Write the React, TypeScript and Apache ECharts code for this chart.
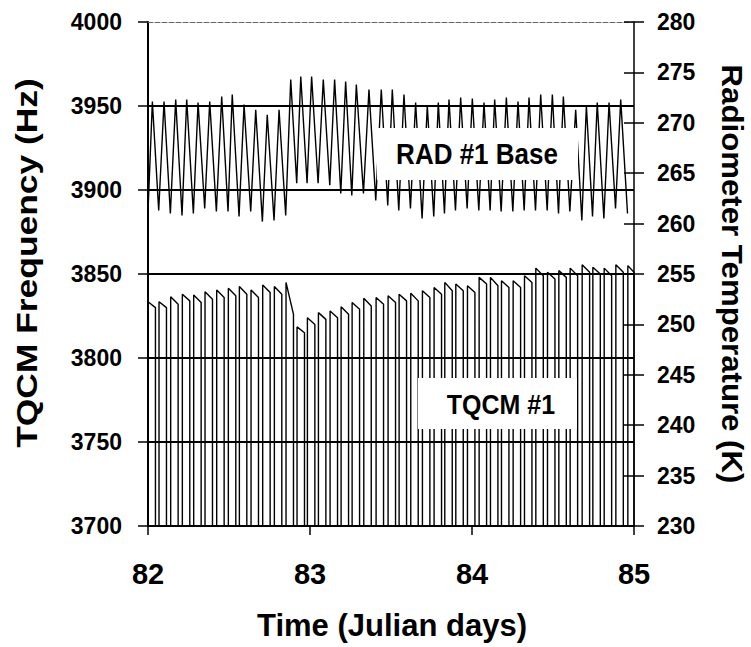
import React, { useEffect, useRef } from "react";
import * as echarts from "echarts";

// ---- Data ----
const xTicks = [82, 83, 84, 85];

// RAD #1 Base temperature (K): alternating troughs and peaks of each orbit
const radTroughDay = [82.000, 82.066, 82.138, 82.210, 82.280, 82.350, 82.422, 82.494, 82.562, 82.634, 82.706, 82.778, 82.850, 82.918, 82.982, 83.050, 83.122, 83.190, 83.258, 83.330, 83.406, 83.480, 83.548, 83.620, 83.692, 83.764, 83.830, 83.898, 83.970, 84.042, 84.112, 84.180, 84.252, 84.322, 84.392, 84.464, 84.534, 84.604, 84.678, 84.744, 84.814, 84.886, 84.960];
const radTroughK = [261.2, 261.3, 261.0, 260.8, 261.0, 261.5, 261.2, 261.2, 260.7, 261.2, 260.2, 260.3, 260.8, 264.0, 264.0, 264.0, 263.8, 263.0, 262.8, 263.0, 262.3, 261.8, 261.3, 261.5, 260.5, 260.7, 261.0, 261.3, 261.5, 261.3, 261.3, 261.2, 261.2, 261.3, 261.3, 261.3, 261.0, 261.2, 260.3, 260.7, 260.5, 261.5, 261.0];
const radPeakDay = [82.027, 82.099, 82.171, 82.239, 82.309, 82.381, 82.455, 82.520, 82.593, 82.665, 82.736, 82.809, 82.881, 82.943, 83.010, 83.082, 83.152, 83.220, 83.286, 83.364, 83.440, 83.508, 83.580, 83.652, 83.724, 83.792, 83.858, 83.930, 84.002, 84.074, 84.140, 84.212, 84.284, 84.352, 84.424, 84.496, 84.564, 84.640, 84.706, 84.773, 84.846, 84.918];
const radPeakK = [272.1, 272.1, 272.3, 272.3, 272.0, 272.1, 272.6, 272.8, 271.8, 271.3, 270.8, 271.3, 274.3, 274.6, 274.6, 274.3, 274.3, 274.1, 273.8, 273.3, 273.3, 273.3, 272.8, 272.0, 271.7, 272.0, 272.3, 272.5, 272.4, 272.0, 272.3, 272.5, 272.1, 272.5, 272.8, 272.8, 272.6, 271.3, 271.7, 272.0, 272.0, 272.3];

// TQCM #1 frequency (Hz): each orbit rises from off-scale, plateaus, then drops off-scale
const tqcmOffScaleHz = 3690;
const tqcmUpDay = [82.000, 82.068, 82.140, 82.212, 82.282, 82.352, 82.424, 82.496, 82.564, 82.636, 82.708, 82.780, 82.852, 82.920, 82.984, 83.052, 83.124, 83.192, 83.260, 83.332, 83.408, 83.482, 83.550, 83.622, 83.694, 83.766, 83.832, 83.900, 83.972, 84.044, 84.114, 84.182, 84.254, 84.324, 84.394, 84.466, 84.536, 84.606, 84.680, 84.746, 84.816, 84.888, 84.962];
const tqcmTopHz = [3833.5, 3833.5, 3836.5, 3838, 3837.5, 3839.5, 3840.5, 3841.5, 3842.5, 3840.5, 3843.5, 3842.5, 3845, 3818.5, 3824, 3827, 3828, 3830.5, 3833, 3835.5, 3836, 3837, 3838, 3838.5, 3840, 3842, 3845, 3844, 3843, 3848, 3848, 3846, 3846, 3849, 3853.5, 3851, 3852, 3853.5, 3855.5, 3854, 3853.5, 3855.5, 3855];
const tqcmDownDay = [82.046, 82.114, 82.186, 82.258, 82.328, 82.398, 82.470, 82.542, 82.610, 82.682, 82.754, 82.826, 82.898, 82.966, 83.030, 83.098, 83.170, 83.238, 83.306, 83.378, 83.454, 83.528, 83.596, 83.668, 83.740, 83.812, 83.878, 83.946, 84.018, 84.090, 84.160, 84.228, 84.300, 84.370, 84.440, 84.512, 84.582, 84.652, 84.726, 84.792, 84.862, 84.934, 85.000];
const tqcmEndHz = [3830, 3830, 3832, 3834, 3833, 3835, 3836, 3837, 3838, 3836, 3839, 3838, 3826, 3815, 3820, 3823, 3824, 3826, 3829, 3831, 3832, 3833, 3834, 3834, 3836, 3838, 3840, 3840, 3839, 3844, 3843, 3842, 3842, 3845, 3849, 3847, 3848, 3849, 3851, 3850, 3849, 3851, 3851];

const leftMin = 3700, leftMax = 4000, leftStep = 50;
const rightMin = 230, rightMax = 280, rightStep = 5;

const FONT = "'Liberation Sans', Arial, sans-serif";

export default function App() {
  const ref = useRef<HTMLDivElement>(null);
  useEffect(() => {
    if (!ref.current) return;
    const chart = echarts.init(ref.current, undefined, { renderer: "svg" });

    const radData: number[][] = [];
    for (let i = 0; i < radTroughDay.length; i++) {
      radData.push([radTroughDay[i], radTroughK[i]]);
      if (i < radPeakDay.length) radData.push([radPeakDay[i], radPeakK[i]]);
    }
    const tqcmData: number[][] = [];
    for (let i = 0; i < tqcmUpDay.length; i++) {
      tqcmData.push([tqcmUpDay[i], tqcmOffScaleHz]);
      tqcmData.push([tqcmUpDay[i], tqcmTopHz[i]]);
      tqcmData.push([tqcmDownDay[i], tqcmEndHz[i]]);
      tqcmData.push([tqcmDownDay[i], tqcmOffScaleHz]);
    }

    const labelStyle = (size: number, margin: number) => ({
      fontFamily: FONT,
      fontWeight: "bold" as const,
      fontSize: size,
      color: "#000",
      margin,
      formatter: (v: number) => String(v),
    });

    chart.setOption({
      animation: false,
      backgroundColor: "#fff",
      grid: { left: 148, right: 117, top: 22, bottom: 121, containLabel: false },
      xAxis: [
        {
          type: "value",
          min: xTicks[0],
          max: xTicks[xTicks.length - 1],
          interval: 1,
          position: "bottom",
          axisLine: { show: true, onZero: false, lineStyle: { color: "#000", width: 2 } },
          axisTick: { show: true, length: 9, lineStyle: { color: "#000", width: 1.5 } },
          axisLabel: labelStyle(29, 33),
          splitLine: { show: false },
        },
        {
          type: "value",
          min: xTicks[0],
          max: xTicks[xTicks.length - 1],
          position: "top",
          axisLine: { show: true, onZero: false, lineStyle: { color: "#666", width: 1, type: [5, 2] } },
          axisTick: { show: false },
          axisLabel: { show: false },
          splitLine: { show: false },
        },
      ],
      yAxis: [
        {
          type: "value",
          min: leftMin,
          max: leftMax,
          interval: leftStep,
          position: "left",
          axisLine: { show: true, onZero: false, lineStyle: { color: "#000", width: 2 } },
          axisTick: { show: true, length: 10, lineStyle: { color: "#000", width: 1.5 } },
          axisLabel: labelStyle(23, 26),
          splitLine: {
            show: true,
            lineStyle: { color: ["#000", "#000", "#000", "#000", "#000", "#000", "rgba(0,0,0,0)"], width: 2 },
          },
        },
        {
          type: "value",
          min: rightMin,
          max: rightMax,
          interval: rightStep,
          position: "right",
          axisLine: { show: true, onZero: false, lineStyle: { color: "#000", width: 1.5 } },
          axisTick: { show: true, length: 10, lineStyle: { color: "#000", width: 1.5 } },
          axisLabel: labelStyle(23, 23),
          splitLine: { show: false },
        },
        {
          type: "value",
          min: rightMin,
          max: rightMax,
          interval: rightStep,
          position: "right",
          axisLine: { show: false },
          axisTick: { show: true, inside: true, length: 10, lineStyle: { color: "#000", width: 1.5 } },
          axisLabel: { show: false },
          splitLine: { show: false },
        },
      ],
      series: [
        {
          name: "TQCM #1",
          type: "line",
          xAxisIndex: 0,
          yAxisIndex: 0,
          data: tqcmData,
          showSymbol: false,
          symbol: "none",
          clip: true,
          lineStyle: { color: "#000", width: 1.4 },
          z: 2,
        },
        {
          name: "RAD #1 Base",
          type: "line",
          xAxisIndex: 0,
          yAxisIndex: 1,
          data: radData,
          showSymbol: false,
          symbol: "none",
          clip: true,
          lineStyle: { color: "#000", width: 1.4 },
          z: 2,
        },
      ],
      graphic: [
        { type: "rect", z: 50, shape: { x: 377, y: 128, width: 201, height: 52 }, style: { fill: "#fff" } },
        {
          type: "text", z: 51, x: 477, y: 154, scaleY: 1.15,
          style: { text: "RAD #1 Base", fontFamily: FONT, fontWeight: "bold", fontSize: 26, fill: "#000", align: "center", verticalAlign: "middle" },
        },
        { type: "rect", z: 50, shape: { x: 418, y: 378, width: 159, height: 51 }, style: { fill: "#fff" } },
        {
          type: "text", z: 51, x: 501, y: 405, scaleY: 1.12,
          style: { text: "TQCM #1", fontFamily: FONT, fontWeight: "bold", fontSize: 25, fill: "#000", align: "center", verticalAlign: "middle" },
        },
        {
          type: "text", z: 51, x: 26, y: 263, rotation: Math.PI / 2, scaleX: 1.18,
          style: { text: "TQCM Frequency (Hz)", fontFamily: FONT, fontWeight: "bold", fontSize: 30, fill: "#000", align: "center", verticalAlign: "middle" },
        },
        {
          type: "text", z: 51, x: 733, y: 274, rotation: -Math.PI / 2, scaleX: 1.04,
          style: { text: "Radiometer Temperature (K)", fontFamily: FONT, fontWeight: "bold", fontSize: 30, fill: "#000", align: "center", verticalAlign: "middle" },
        },
        {
          type: "text", z: 51, x: 392, y: 625,
          style: { text: "Time (Julian days)", fontFamily: FONT, fontWeight: "bold", fontSize: 31, fill: "#000", align: "center", verticalAlign: "middle" },
        },
      ],
    });
    return () => chart.dispose();
  }, []);
  return <div ref={ref} style={{ position: "fixed", left: 0, top: 0, width: 751, height: 647 }} />;
}
